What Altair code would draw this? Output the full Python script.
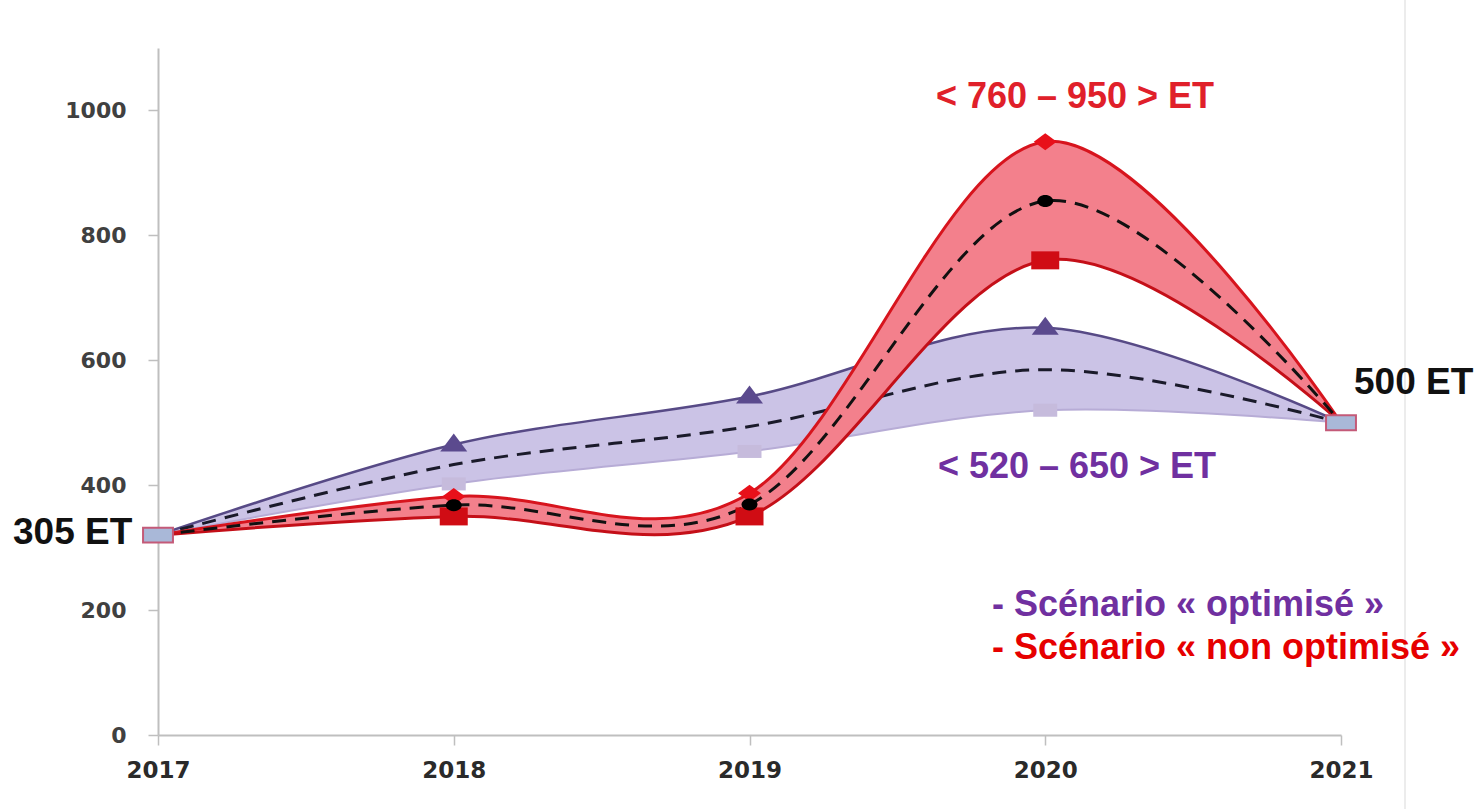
import altair as alt
import pandas as pd

# ---- data ----
years = [2017, 2018, 2019, 2020, 2021]
opt_high = [320, 465, 542, 652, 500]
opt_mid = [320, 433, 494, 585, 500]
opt_low = [320, 402, 454, 520, 500]
non_high = [320, 382, 387, 950, 500]
non_mid = [320, 368, 369, 855, 500]
non_low = [320, 350, 350, 760, 500]
y_ticks = [0, 200, 400, 600, 800, 1000]

label_non = "< 760 – 950 > ET"
label_opt = "< 520 – 650 > ET"
label_start = "305 ET"
label_end = "500 ET"
legend_opt = "- Scénario « optimisé »"
legend_non = "- Scénario « non optimisé »"

df = pd.DataFrame({
    "year": years,
    "opt_high": opt_high, "opt_mid": opt_mid, "opt_low": opt_low,
    "non_high": non_high, "non_mid": non_mid, "non_low": non_low,
})
inner = df[df["year"].isin([2018, 2019, 2020])]
ends = df[df["year"].isin([2017, 2021])]

W, H = 1183, 687
AX = "#bfbfbf"

x_enc = alt.X(
    "year:Q",
    scale=alt.Scale(domain=[2017, 2021], nice=False, zero=False),
    axis=alt.Axis(values=years, format="d", title=None, grid=False,
                  domainColor=AX, domainWidth=2, tickColor=AX, tickWidth=1.5,
                  tickSize=10, labelPadding=14, labelFont="DejaVu Sans",
                  labelFontWeight="bold", labelFontSize=23, labelColor="#2a2a2a",
                  labelFlush=False, labelOverlap=False),
)


def y_enc(field):
    return alt.Y(
        f"{field}:Q",
        scale=alt.Scale(domain=[0, 1100], nice=False),
        axis=alt.Axis(values=y_ticks, format="d", title=None, grid=False,
                      domainColor=AX, domainWidth=2, tickColor=AX, tickWidth=1.5,
                      tickSize=10, labelPadding=22, labelFont="DejaVu Sans",
                      labelFontWeight="bold", labelFontSize=22, labelColor="#404040",
                      labelFlush=False, labelOverlap=False),
    )


# stretched marker shapes (the reference is horizontally stretched)
SQ_RED = "M-1.4,-0.9H1.4V0.9H-1.4Z"
SQ_LIGHT = "M-1.2,-0.65H1.2V0.65H-1.2Z"
TRI = "M-1.35,0.7L0,-1.1L1.35,0.7Z"
DIA = "M-1.15,0L0,-0.85L1.15,0L0,0.85Z"
DOT = "M-0.8,0A0.8,0.6 0 1,0 0.8,0A0.8,0.6 0 1,0 -0.8,0Z"
END = "M-1.3,-0.65H1.3V0.65H-1.3Z"

base = alt.Chart(df)
DASH = [14, 9]

opt_band = base.mark_area(interpolate="cardinal", color="#cbc3e6", opacity=1).encode(
    x=x_enc, y=y_enc("opt_low"), y2="opt_high:Q")
opt_hi_line = base.mark_line(interpolate="cardinal", color="#574a86", strokeWidth=2.5).encode(
    x=x_enc, y=y_enc("opt_high"))
opt_lo_line = base.mark_line(interpolate="cardinal", color="#b7acd6", strokeWidth=2).encode(
    x=x_enc, y=y_enc("opt_low"))
opt_mid_line = base.mark_line(interpolate="cardinal", color="#1a1a2a", strokeWidth=3,
                              strokeDash=DASH).encode(x=x_enc, y=y_enc("opt_mid"))
opt_tri = alt.Chart(inner).mark_point(shape=TRI, filled=True, size=400,
                                      color="#5b4a8e", opacity=1).encode(
    x=x_enc, y=y_enc("opt_high"))
opt_sq = alt.Chart(inner).mark_point(shape=SQ_LIGHT, filled=True, size=400,
                                     color="#c6bbdc", opacity=1).encode(
    x=x_enc, y=y_enc("opt_low"))

non_band = base.mark_area(interpolate="cardinal", color="#f3808c", opacity=1).encode(
    x=x_enc, y=y_enc("non_low"), y2="non_high:Q")
non_hi_line = base.mark_line(interpolate="cardinal", color="#d7141d", strokeWidth=3).encode(
    x=x_enc, y=y_enc("non_high"))
non_lo_line = base.mark_line(interpolate="cardinal", color="#c40f18", strokeWidth=3).encode(
    x=x_enc, y=y_enc("non_low"))
non_mid_line = base.mark_line(interpolate="cardinal", color="#111111", strokeWidth=3,
                              strokeDash=DASH).encode(x=x_enc, y=y_enc("non_mid"))
non_sq = alt.Chart(inner).mark_point(shape=SQ_RED, filled=True, size=400,
                                     color="#d00c14", opacity=1).encode(
    x=x_enc, y=y_enc("non_low"))
non_dia = alt.Chart(inner).mark_point(shape=DIA, filled=True, size=400,
                                      color="#e8101a", opacity=1).encode(
    x=x_enc, y=y_enc("non_high"))
non_dot = alt.Chart(inner).mark_point(shape=DOT, filled=True, size=400,
                                      color="#000000", opacity=1).encode(
    x=x_enc, y=y_enc("non_mid"))

end_sq = alt.Chart(ends).mark_point(shape=END, filled=True, size=529,
                                    fill="#a9b8d8", stroke="#c45a78",
                                    strokeWidth=2, opacity=1).encode(
    x=x_enc, y=y_enc("opt_high"))

one = pd.DataFrame({"k": [0]})

border = alt.Chart(one).mark_rule(color="#ececec", strokeWidth=2).encode(
    x=alt.value(1247), y=alt.value(-48), y2=alt.value(761))


def note(text, px, py, color, size, align="center"):
    return alt.Chart(one).mark_text(
        text=text, font="Liberation Sans", fontWeight="bold", fontSize=size,
        color=color, align=align, baseline="middle").encode(
        x=alt.value(px), y=alt.value(py))


notes = [
    note(label_non, 917, 49, "#e0202a", 36),
    note(label_opt, 919, 419, "#7030a0", 36),
    note(label_start, -145, 485, "#111111", 37, "left"),
    note(label_end, 1196, 335, "#111111", 37, "left"),
    note(legend_opt, 834, 557, "#7030a0", 36, "left"),
    note(legend_non, 834, 600, "#e60000", 36, "left"),
]

chart = alt.layer(
    border,
    opt_band, opt_hi_line, opt_lo_line, opt_mid_line, opt_tri, opt_sq,
    non_band, non_hi_line, non_lo_line, non_mid_line, non_sq, non_dia, non_dot,
    end_sq, *notes,
).properties(
    width=W, height=H,
    padding={"left": 158, "top": 48, "right": 137, "bottom": 74},
    autosize=alt.AutoSizeParams(type="none"),
    background="white",
).configure_view(stroke=None)

chart.save("out.html", embed_options={"renderer": "svg", "actions": False})
